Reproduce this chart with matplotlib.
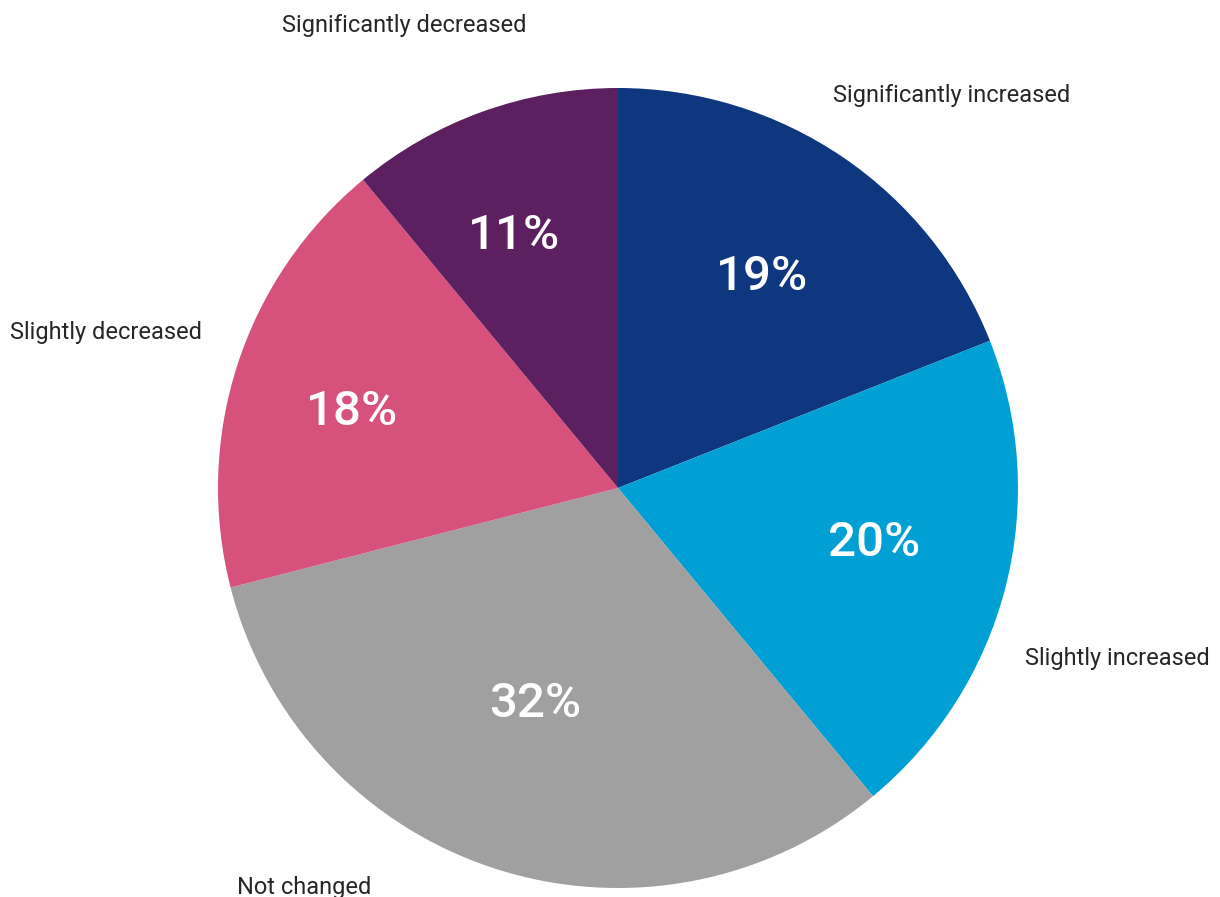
import matplotlib.pyplot as plt

plt.rcParams['font.family'] = ['Roboto', 'DejaVu Sans']

# Share of respondents per answer
categories = ["Significantly increased", "Slightly increased", "Not changed",
              "Slightly decreased", "Significantly decreased"]
shares = [19, 20, 32, 18, 11]
colors = ["#0E377F", "#00A0D4", "#A0A0A0", "#D6527C", "#5C2060"]

# text anchors (centre x, baseline y) relative to pie centre, radius = 1
label_pos = [(0.834, 0.965), (1.2475, -0.4425), (-0.784, -1.015),
             (-1.279, 0.3725), (-0.534, 1.14)]
pct_pos = [(0.361, 0.495), (0.641, -0.17), (-0.206, -0.5725),
           (-0.666, 0.1575), (-0.261, 0.5975)]

fig = plt.figure(figsize=(12.2, 8.97), dpi=100)
ax = fig.add_axes([218 / 1220, 9 / 897, 800 / 1220, 800 / 897])

wedges, texts, autotexts = ax.pie(
    shares, colors=colors, startangle=90, counterclock=False,
    labels=categories, labeldistance=1.1,
    autopct="%d%%", pctdistance=0.65,
    textprops=dict(color="#262626", fontsize=17),
    wedgeprops=dict(linewidth=0),
)

for t, pos in zip(texts, label_pos):
    t.set_position(pos)
    t.set_ha("center")
    t.set_va("baseline")

for at, pos in zip(autotexts, pct_pos):
    at.set_position(pos)
    at.set_va("baseline")
    at.set_color("white")
    at.set_fontsize(35.5)
    at.set_fontweight("medium")

ax.set_xlim(-1, 1)
ax.set_ylim(-1, 1)
ax.set_aspect("equal")
ax.axis("off")

fig.savefig("out.png", dpi=100)
